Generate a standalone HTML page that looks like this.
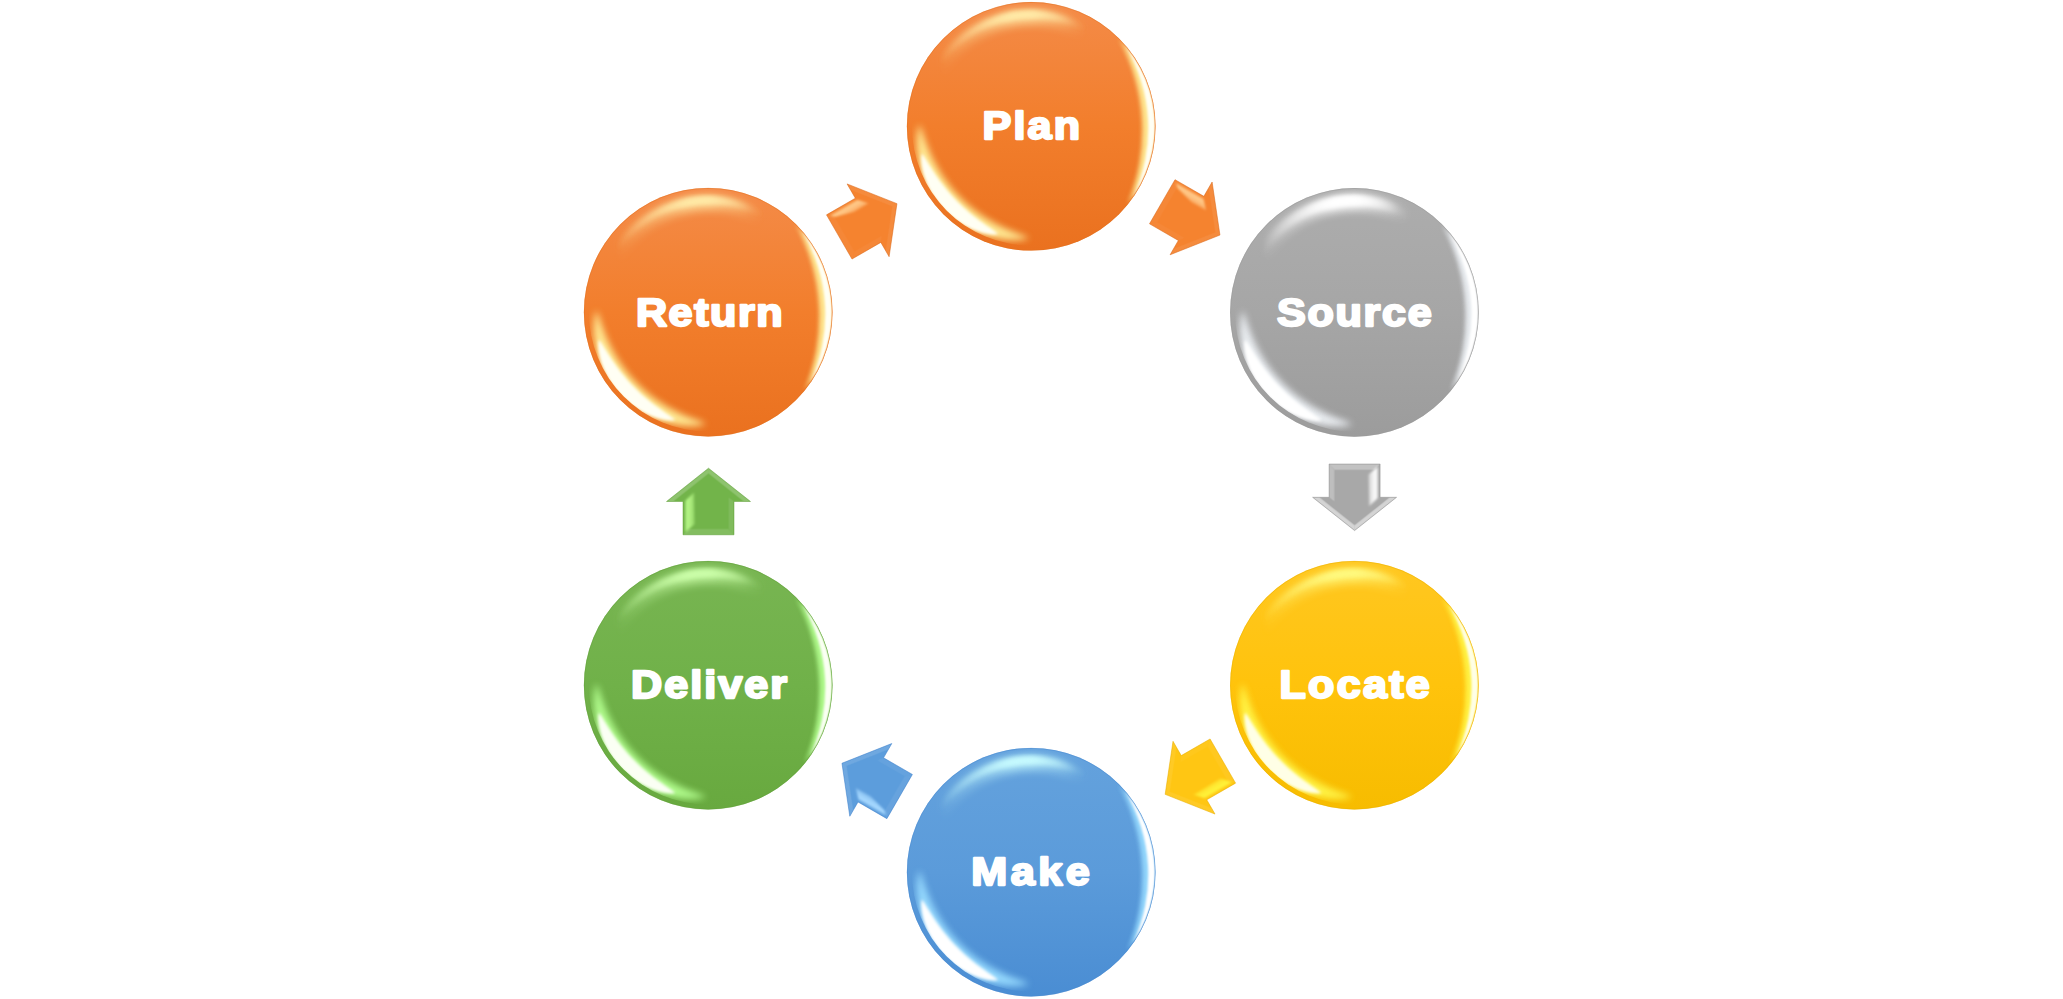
<!DOCTYPE html>
<html><head><meta charset="utf-8"><title>Cycle</title>
<style>
html,body{margin:0;padding:0;background:#fff;}
body{width:2063px;height:999px;overflow:hidden;font-family:"Liberation Sans",sans-serif;}
svg{display:block}
text{font-family:"Liberation Sans",sans-serif;font-weight:bold;fill:#fff;stroke:#fff;stroke-linejoin:round;}
</style></head><body>
<svg width="2063" height="999" viewBox="0 0 2063 999">
<defs>
<filter id="b1" x="-20%" y="-20%" width="140%" height="140%"><feGaussianBlur stdDeviation="1.2"/></filter>
<filter id="b2" x="-20%" y="-20%" width="140%" height="140%"><feGaussianBlur stdDeviation="2.2"/></filter>
<filter id="b3" x="-20%" y="-20%" width="140%" height="140%"><feGaussianBlur stdDeviation="3.5"/></filter>
<filter id="b05" x="-20%" y="-20%" width="140%" height="140%"><feGaussianBlur stdDeviation="0.6"/></filter>
<filter id="b15" x="-20%" y="-20%" width="140%" height="140%"><feGaussianBlur stdDeviation="1.5"/></filter>
<clipPath id="cc"><circle cx="0" cy="0" r="124.3"/></clipPath>
<clipPath id="cbl"><circle cx="0" cy="0" r="119.3"/></clipPath>
<clipPath id="cr"><circle cx="0" cy="0" r="124.0"/></clipPath>
<clipPath id="ac"><path d="M-33.3,-25.5 L0,-25.5 L0,-42 L33.3,0 L0,42 L0,25.5 L-33.3,25.5 Z"/></clipPath>
<filter id="b08" x="-20%" y="-20%" width="140%" height="140%"><feGaussianBlur stdDeviation="0.9"/></filter>

<linearGradient id="go" x1="0" y1="0" x2="0" y2="1"><stop offset="0" stop-color="#F48B48"/><stop offset="0.5" stop-color="#F27E2C"/><stop offset="1" stop-color="#EA711F"/></linearGradient>
<linearGradient id="gg" x1="0" y1="0" x2="0" y2="1"><stop offset="0" stop-color="#ADADAD"/><stop offset="0.5" stop-color="#A6A6A6"/><stop offset="1" stop-color="#9C9C9C"/></linearGradient>
<linearGradient id="gy" x1="0" y1="0" x2="0" y2="1"><stop offset="0" stop-color="#FFC721"/><stop offset="0.5" stop-color="#FFC30C"/><stop offset="1" stop-color="#F7BC00"/></linearGradient>
<linearGradient id="gb" x1="0" y1="0" x2="0" y2="1"><stop offset="0" stop-color="#64A2DD"/><stop offset="0.5" stop-color="#5B9BDA"/><stop offset="1" stop-color="#4A8DD3"/></linearGradient>
<linearGradient id="gn" x1="0" y1="0" x2="0" y2="1"><stop offset="0" stop-color="#78B552"/><stop offset="0.5" stop-color="#70B149"/><stop offset="1" stop-color="#68A93F"/></linearGradient>
<linearGradient id="tgo" gradientUnits="userSpaceOnUse" x1="-92" y1="0" x2="55" y2="0"><stop offset="0" stop-color="#FFEBA8" stop-opacity="0"/><stop offset="0.28" stop-color="#FFEBA8" stop-opacity="0.5"/><stop offset="0.49" stop-color="#FFEBA8" stop-opacity="1"/><stop offset="0.63" stop-color="#FFEBA8" stop-opacity="1"/><stop offset="0.8" stop-color="#FFEBA8" stop-opacity="0.5"/><stop offset="0.925" stop-color="#FFEBA8" stop-opacity="0.1"/><stop offset="1" stop-color="#FFEBA8" stop-opacity="0"/></linearGradient>
<linearGradient id="tgg" gradientUnits="userSpaceOnUse" x1="-92" y1="0" x2="55" y2="0"><stop offset="0" stop-color="#FFFFFF" stop-opacity="0"/><stop offset="0.28" stop-color="#FFFFFF" stop-opacity="0.5"/><stop offset="0.49" stop-color="#FFFFFF" stop-opacity="1"/><stop offset="0.63" stop-color="#FFFFFF" stop-opacity="1"/><stop offset="0.8" stop-color="#FFFFFF" stop-opacity="0.5"/><stop offset="0.925" stop-color="#FFFFFF" stop-opacity="0.1"/><stop offset="1" stop-color="#FFFFFF" stop-opacity="0"/></linearGradient>
<linearGradient id="tgy" gradientUnits="userSpaceOnUse" x1="-92" y1="0" x2="55" y2="0"><stop offset="0" stop-color="#FFFA80" stop-opacity="0"/><stop offset="0.28" stop-color="#FFFA80" stop-opacity="0.5"/><stop offset="0.49" stop-color="#FFFA80" stop-opacity="1"/><stop offset="0.63" stop-color="#FFFA80" stop-opacity="1"/><stop offset="0.8" stop-color="#FFFA80" stop-opacity="0.5"/><stop offset="0.925" stop-color="#FFFA80" stop-opacity="0.1"/><stop offset="1" stop-color="#FFFA80" stop-opacity="0"/></linearGradient>
<linearGradient id="tgb" gradientUnits="userSpaceOnUse" x1="-92" y1="0" x2="55" y2="0"><stop offset="0" stop-color="#C8FCFF" stop-opacity="0"/><stop offset="0.28" stop-color="#C8FCFF" stop-opacity="0.5"/><stop offset="0.49" stop-color="#C8FCFF" stop-opacity="1"/><stop offset="0.63" stop-color="#C8FCFF" stop-opacity="1"/><stop offset="0.8" stop-color="#C8FCFF" stop-opacity="0.5"/><stop offset="0.925" stop-color="#C8FCFF" stop-opacity="0.1"/><stop offset="1" stop-color="#C8FCFF" stop-opacity="0"/></linearGradient>
<linearGradient id="tgn" gradientUnits="userSpaceOnUse" x1="-92" y1="0" x2="55" y2="0"><stop offset="0" stop-color="#CCFFAA" stop-opacity="0"/><stop offset="0.28" stop-color="#CCFFAA" stop-opacity="0.5"/><stop offset="0.49" stop-color="#CCFFAA" stop-opacity="1"/><stop offset="0.63" stop-color="#CCFFAA" stop-opacity="1"/><stop offset="0.8" stop-color="#CCFFAA" stop-opacity="0.5"/><stop offset="0.925" stop-color="#CCFFAA" stop-opacity="0.1"/><stop offset="1" stop-color="#CCFFAA" stop-opacity="0"/></linearGradient>
<linearGradient id="aho" gradientUnits="userSpaceOnUse" x1="0" y1="-24" x2="0" y2="-12.5"><stop offset="0" stop-color="#FFC888" stop-opacity="0.8"/><stop offset="0.3" stop-color="#FFC888" stop-opacity="1"/><stop offset="0.6" stop-color="#FFC888" stop-opacity="0.8"/><stop offset="1" stop-color="#FFC888" stop-opacity="0.25"/></linearGradient>
<linearGradient id="ahg" gradientUnits="userSpaceOnUse" x1="0" y1="-24" x2="0" y2="-12.5"><stop offset="0" stop-color="#FAFAFA" stop-opacity="0.8"/><stop offset="0.3" stop-color="#FAFAFA" stop-opacity="1"/><stop offset="0.6" stop-color="#FAFAFA" stop-opacity="0.8"/><stop offset="1" stop-color="#FAFAFA" stop-opacity="0.25"/></linearGradient>
<linearGradient id="ahy" gradientUnits="userSpaceOnUse" x1="0" y1="-24" x2="0" y2="-12.5"><stop offset="0" stop-color="#FFF23A" stop-opacity="0.8"/><stop offset="0.3" stop-color="#FFF23A" stop-opacity="1"/><stop offset="0.6" stop-color="#FFF23A" stop-opacity="0.8"/><stop offset="1" stop-color="#FFF23A" stop-opacity="0.25"/></linearGradient>
<linearGradient id="ahb" gradientUnits="userSpaceOnUse" x1="0" y1="-24" x2="0" y2="-12.5"><stop offset="0" stop-color="#A6D8FF" stop-opacity="0.8"/><stop offset="0.3" stop-color="#A6D8FF" stop-opacity="1"/><stop offset="0.6" stop-color="#A6D8FF" stop-opacity="0.8"/><stop offset="1" stop-color="#A6D8FF" stop-opacity="0.25"/></linearGradient>
<linearGradient id="ahn" gradientUnits="userSpaceOnUse" x1="0" y1="-24" x2="0" y2="-12.5"><stop offset="0" stop-color="#B4F585" stop-opacity="0.8"/><stop offset="0.3" stop-color="#B4F585" stop-opacity="1"/><stop offset="0.6" stop-color="#B4F585" stop-opacity="0.8"/><stop offset="1" stop-color="#B4F585" stop-opacity="0.25"/></linearGradient>
</defs>
<rect width="2063" height="999" fill="#fff"/>
<g transform="translate(1031.2,126.3)">
<circle r="124.3" fill="url(#go)"/>
<g clip-path="url(#cc)">
<path d="M-92.92,-53.65 A107.3,107.3 0 0 1 68.97,-82.20" fill="none" stroke="url(#tgo)" stroke-width="15" opacity="0.4" filter="url(#b3)"/>
<path d="M-96.82,-55.90 A111.8,111.8 0 0 1 71.86,-85.64" fill="none" stroke="url(#tgo)" stroke-width="10" filter="url(#b3)"/>
<path d="M-96.82,-55.90 A111.8,111.8 0 0 1 71.86,-85.64" fill="none" stroke="url(#tgo)" stroke-width="6" opacity="0.8" filter="url(#b2)"/>
<g clip-path="url(#cbl)"><path d="M-2.0,111.8 L-6.4,112.9 L-10.9,113.5 L-15.5,113.8 L-20.1,113.8 L-24.7,113.5 L-29.2,113.0 L-33.8,112.3 L-38.3,111.3 L-42.8,110.1 L-47.3,108.7 L-51.7,107.1 L-56.0,105.2 L-60.2,103.2 L-64.3,100.9 L-68.3,98.5 L-72.2,95.9 L-76.0,93.0 L-79.7,90.0 L-83.2,86.9 L-86.5,83.6 L-89.7,80.1 L-92.8,76.5 L-95.6,72.7 L-98.3,68.8 L-100.8,64.8 L-103.1,60.7 L-105.2,56.5 L-107.1,52.3 L-108.8,47.9 L-110.3,43.4 L-111.6,39.0 L-112.6,34.4 L-113.4,29.9 L-114.0,25.3 L-114.3,20.7 L-114.4,16.1 L-114.3,11.5 L-113.8,7.0 L-113.1,2.5 L-111.8,-2.0 L-111.8,-2.0 L-110.1,2.4 L-108.7,6.6 L-107.3,10.8 L-105.9,14.9 L-104.4,18.9 L-102.9,22.8 L-101.3,26.7 L-99.6,30.4 L-97.8,34.1 L-95.9,37.8 L-93.9,41.3 L-91.9,44.8 L-89.8,48.2 L-87.5,51.6 L-85.2,54.8 L-82.9,58.0 L-80.4,61.1 L-77.8,64.2 L-75.2,67.1 L-72.5,70.0 L-69.7,72.8 L-66.9,75.6 L-63.9,78.2 L-60.9,80.8 L-57.8,83.3 L-54.6,85.7 L-51.3,88.0 L-48.0,90.3 L-44.6,92.4 L-41.1,94.5 L-37.5,96.5 L-33.9,98.4 L-30.2,100.3 L-26.4,102.0 L-22.5,103.7 L-18.6,105.3 L-14.5,106.9 L-10.4,108.4 L-6.2,109.9 L-2.0,111.8 Z" fill="#FFF09A" opacity="0.95" filter="url(#b3)"/>
<path d="M-33.0,107.9 L-36.2,108.3 L-39.3,108.1 L-42.3,107.8 L-45.3,107.2 L-48.3,106.6 L-51.2,105.7 L-54.2,104.8 L-57.0,103.7 L-59.9,102.6 L-62.7,101.3 L-65.4,99.9 L-68.1,98.4 L-70.8,96.8 L-73.3,95.1 L-75.9,93.3 L-78.3,91.4 L-80.7,89.4 L-83.1,87.4 L-85.3,85.2 L-87.5,83.0 L-89.6,80.7 L-91.6,78.4 L-93.5,75.9 L-95.4,73.4 L-97.1,70.9 L-98.8,68.3 L-100.3,65.6 L-101.8,62.9 L-103.2,60.1 L-104.4,57.3 L-105.5,54.4 L-106.6,51.5 L-107.5,48.6 L-108.3,45.6 L-108.9,42.6 L-109.5,39.6 L-109.8,36.6 L-110.0,33.5 L-110.0,30.5 L-109.4,27.3 L-109.4,27.3 L-107.4,29.7 L-105.8,32.3 L-104.3,34.7 L-102.8,37.2 L-101.3,39.6 L-99.8,42.0 L-98.3,44.4 L-96.7,46.8 L-95.2,49.1 L-93.6,51.3 L-92.0,53.6 L-90.4,55.8 L-88.7,58.0 L-87.0,60.2 L-85.3,62.3 L-83.6,64.4 L-81.8,66.5 L-80.1,68.5 L-78.2,70.5 L-76.4,72.5 L-74.5,74.4 L-72.6,76.4 L-70.6,78.3 L-68.7,80.1 L-66.7,82.0 L-64.6,83.8 L-62.6,85.6 L-60.5,87.3 L-58.3,89.1 L-56.2,90.8 L-54.0,92.5 L-51.8,94.1 L-49.5,95.8 L-47.2,97.4 L-44.9,99.1 L-42.5,100.7 L-40.2,102.3 L-37.8,104.0 L-35.3,105.7 L-33.0,107.9 Z" fill="#FFFFF4" filter="url(#b15)"/></g>
<g clip-path="url(#cr)"><path d="M87.68,-87.68 A124.00,124.00 0 0 1 96.37,78.04 A192.03,192.03 0 0 0 87.68,-87.68 Z" fill="#FFF09A" opacity="0.9" filter="url(#b2)"/>
<path d="M93.58,-81.35 A124.00,124.00 0 0 1 101.57,71.12 A160.73,160.73 0 0 0 93.58,-81.35 Z" fill="#FFFFF4" filter="url(#b08)"/></g>
</g>
<circle r="123.89999999999999" fill="none" stroke="#E0701F" stroke-width="1" opacity="0.45"/>
</g>
<text transform="translate(982.59,139.1) scale(1.09,1)" font-size="39.6" stroke-width="2.3" textLength="89.37" lengthAdjust="spacing">Plan</text>
<g transform="translate(1354.4,312.4)">
<circle r="124.3" fill="url(#gg)"/>
<g clip-path="url(#cc)">
<path d="M-92.92,-53.65 A107.3,107.3 0 0 1 68.97,-82.20" fill="none" stroke="url(#tgg)" stroke-width="15" opacity="0.4" filter="url(#b3)"/>
<path d="M-96.82,-55.90 A111.8,111.8 0 0 1 71.86,-85.64" fill="none" stroke="url(#tgg)" stroke-width="13" filter="url(#b3)"/>
<path d="M-96.82,-55.90 A111.8,111.8 0 0 1 71.86,-85.64" fill="none" stroke="url(#tgg)" stroke-width="9" opacity="1.0" filter="url(#b2)"/>
<g clip-path="url(#cbl)"><path d="M-2.0,111.8 L-6.4,112.9 L-10.9,113.5 L-15.5,113.8 L-20.1,113.8 L-24.7,113.5 L-29.2,113.0 L-33.8,112.3 L-38.3,111.3 L-42.8,110.1 L-47.3,108.7 L-51.7,107.1 L-56.0,105.2 L-60.2,103.2 L-64.3,100.9 L-68.3,98.5 L-72.2,95.9 L-76.0,93.0 L-79.7,90.0 L-83.2,86.9 L-86.5,83.6 L-89.7,80.1 L-92.8,76.5 L-95.6,72.7 L-98.3,68.8 L-100.8,64.8 L-103.1,60.7 L-105.2,56.5 L-107.1,52.3 L-108.8,47.9 L-110.3,43.4 L-111.6,39.0 L-112.6,34.4 L-113.4,29.9 L-114.0,25.3 L-114.3,20.7 L-114.4,16.1 L-114.3,11.5 L-113.8,7.0 L-113.1,2.5 L-111.8,-2.0 L-111.8,-2.0 L-110.1,2.4 L-108.7,6.6 L-107.3,10.8 L-105.9,14.9 L-104.4,18.9 L-102.9,22.8 L-101.3,26.7 L-99.6,30.4 L-97.8,34.1 L-95.9,37.8 L-93.9,41.3 L-91.9,44.8 L-89.8,48.2 L-87.5,51.6 L-85.2,54.8 L-82.9,58.0 L-80.4,61.1 L-77.8,64.2 L-75.2,67.1 L-72.5,70.0 L-69.7,72.8 L-66.9,75.6 L-63.9,78.2 L-60.9,80.8 L-57.8,83.3 L-54.6,85.7 L-51.3,88.0 L-48.0,90.3 L-44.6,92.4 L-41.1,94.5 L-37.5,96.5 L-33.9,98.4 L-30.2,100.3 L-26.4,102.0 L-22.5,103.7 L-18.6,105.3 L-14.5,106.9 L-10.4,108.4 L-6.2,109.9 L-2.0,111.8 Z" fill="#EEF2F6" opacity="0.95" filter="url(#b3)"/>
<path d="M-33.0,107.9 L-36.2,108.3 L-39.3,108.1 L-42.3,107.8 L-45.3,107.2 L-48.3,106.6 L-51.2,105.7 L-54.2,104.8 L-57.0,103.7 L-59.9,102.6 L-62.7,101.3 L-65.4,99.9 L-68.1,98.4 L-70.8,96.8 L-73.3,95.1 L-75.9,93.3 L-78.3,91.4 L-80.7,89.4 L-83.1,87.4 L-85.3,85.2 L-87.5,83.0 L-89.6,80.7 L-91.6,78.4 L-93.5,75.9 L-95.4,73.4 L-97.1,70.9 L-98.8,68.3 L-100.3,65.6 L-101.8,62.9 L-103.2,60.1 L-104.4,57.3 L-105.5,54.4 L-106.6,51.5 L-107.5,48.6 L-108.3,45.6 L-108.9,42.6 L-109.5,39.6 L-109.8,36.6 L-110.0,33.5 L-110.0,30.5 L-109.4,27.3 L-109.4,27.3 L-107.4,29.7 L-105.8,32.3 L-104.3,34.7 L-102.8,37.2 L-101.3,39.6 L-99.8,42.0 L-98.3,44.4 L-96.7,46.8 L-95.2,49.1 L-93.6,51.3 L-92.0,53.6 L-90.4,55.8 L-88.7,58.0 L-87.0,60.2 L-85.3,62.3 L-83.6,64.4 L-81.8,66.5 L-80.1,68.5 L-78.2,70.5 L-76.4,72.5 L-74.5,74.4 L-72.6,76.4 L-70.6,78.3 L-68.7,80.1 L-66.7,82.0 L-64.6,83.8 L-62.6,85.6 L-60.5,87.3 L-58.3,89.1 L-56.2,90.8 L-54.0,92.5 L-51.8,94.1 L-49.5,95.8 L-47.2,97.4 L-44.9,99.1 L-42.5,100.7 L-40.2,102.3 L-37.8,104.0 L-35.3,105.7 L-33.0,107.9 Z" fill="#FFFFFF" filter="url(#b15)"/></g>
<g clip-path="url(#cr)"><path d="M87.68,-87.68 A124.00,124.00 0 0 1 96.37,78.04 A192.03,192.03 0 0 0 87.68,-87.68 Z" fill="#EEF2F6" opacity="0.9" filter="url(#b2)"/>
<path d="M93.58,-81.35 A124.00,124.00 0 0 1 101.57,71.12 A160.73,160.73 0 0 0 93.58,-81.35 Z" fill="#FFFFFF" filter="url(#b08)"/></g>
</g>
<circle r="123.89999999999999" fill="none" stroke="#9A9A9A" stroke-width="1" opacity="0.45"/>
</g>
<text transform="translate(1276.89,325.9) scale(1.09,1)" font-size="39.6" stroke-width="2.3" textLength="142.17" lengthAdjust="spacing">Source</text>
<g transform="translate(1354.4,685.2)">
<circle r="124.3" fill="url(#gy)"/>
<g clip-path="url(#cc)">
<path d="M-92.92,-53.65 A107.3,107.3 0 0 1 68.97,-82.20" fill="none" stroke="url(#tgy)" stroke-width="15" opacity="0.4" filter="url(#b3)"/>
<path d="M-96.82,-55.90 A111.8,111.8 0 0 1 71.86,-85.64" fill="none" stroke="url(#tgy)" stroke-width="10" filter="url(#b3)"/>
<path d="M-96.82,-55.90 A111.8,111.8 0 0 1 71.86,-85.64" fill="none" stroke="url(#tgy)" stroke-width="6" opacity="0.8" filter="url(#b2)"/>
<g clip-path="url(#cbl)"><path d="M-2.0,111.8 L-6.4,112.9 L-10.9,113.5 L-15.5,113.8 L-20.1,113.8 L-24.7,113.5 L-29.2,113.0 L-33.8,112.3 L-38.3,111.3 L-42.8,110.1 L-47.3,108.7 L-51.7,107.1 L-56.0,105.2 L-60.2,103.2 L-64.3,100.9 L-68.3,98.5 L-72.2,95.9 L-76.0,93.0 L-79.7,90.0 L-83.2,86.9 L-86.5,83.6 L-89.7,80.1 L-92.8,76.5 L-95.6,72.7 L-98.3,68.8 L-100.8,64.8 L-103.1,60.7 L-105.2,56.5 L-107.1,52.3 L-108.8,47.9 L-110.3,43.4 L-111.6,39.0 L-112.6,34.4 L-113.4,29.9 L-114.0,25.3 L-114.3,20.7 L-114.4,16.1 L-114.3,11.5 L-113.8,7.0 L-113.1,2.5 L-111.8,-2.0 L-111.8,-2.0 L-110.1,2.4 L-108.7,6.6 L-107.3,10.8 L-105.9,14.9 L-104.4,18.9 L-102.9,22.8 L-101.3,26.7 L-99.6,30.4 L-97.8,34.1 L-95.9,37.8 L-93.9,41.3 L-91.9,44.8 L-89.8,48.2 L-87.5,51.6 L-85.2,54.8 L-82.9,58.0 L-80.4,61.1 L-77.8,64.2 L-75.2,67.1 L-72.5,70.0 L-69.7,72.8 L-66.9,75.6 L-63.9,78.2 L-60.9,80.8 L-57.8,83.3 L-54.6,85.7 L-51.3,88.0 L-48.0,90.3 L-44.6,92.4 L-41.1,94.5 L-37.5,96.5 L-33.9,98.4 L-30.2,100.3 L-26.4,102.0 L-22.5,103.7 L-18.6,105.3 L-14.5,106.9 L-10.4,108.4 L-6.2,109.9 L-2.0,111.8 Z" fill="#FFF64A" opacity="0.95" filter="url(#b3)"/>
<path d="M-33.0,107.9 L-36.2,108.3 L-39.3,108.1 L-42.3,107.8 L-45.3,107.2 L-48.3,106.6 L-51.2,105.7 L-54.2,104.8 L-57.0,103.7 L-59.9,102.6 L-62.7,101.3 L-65.4,99.9 L-68.1,98.4 L-70.8,96.8 L-73.3,95.1 L-75.9,93.3 L-78.3,91.4 L-80.7,89.4 L-83.1,87.4 L-85.3,85.2 L-87.5,83.0 L-89.6,80.7 L-91.6,78.4 L-93.5,75.9 L-95.4,73.4 L-97.1,70.9 L-98.8,68.3 L-100.3,65.6 L-101.8,62.9 L-103.2,60.1 L-104.4,57.3 L-105.5,54.4 L-106.6,51.5 L-107.5,48.6 L-108.3,45.6 L-108.9,42.6 L-109.5,39.6 L-109.8,36.6 L-110.0,33.5 L-110.0,30.5 L-109.4,27.3 L-109.4,27.3 L-107.4,29.7 L-105.8,32.3 L-104.3,34.7 L-102.8,37.2 L-101.3,39.6 L-99.8,42.0 L-98.3,44.4 L-96.7,46.8 L-95.2,49.1 L-93.6,51.3 L-92.0,53.6 L-90.4,55.8 L-88.7,58.0 L-87.0,60.2 L-85.3,62.3 L-83.6,64.4 L-81.8,66.5 L-80.1,68.5 L-78.2,70.5 L-76.4,72.5 L-74.5,74.4 L-72.6,76.4 L-70.6,78.3 L-68.7,80.1 L-66.7,82.0 L-64.6,83.8 L-62.6,85.6 L-60.5,87.3 L-58.3,89.1 L-56.2,90.8 L-54.0,92.5 L-51.8,94.1 L-49.5,95.8 L-47.2,97.4 L-44.9,99.1 L-42.5,100.7 L-40.2,102.3 L-37.8,104.0 L-35.3,105.7 L-33.0,107.9 Z" fill="#FFFFE6" filter="url(#b15)"/></g>
<g clip-path="url(#cr)"><path d="M87.68,-87.68 A124.00,124.00 0 0 1 96.37,78.04 A192.03,192.03 0 0 0 87.68,-87.68 Z" fill="#FFF64A" opacity="0.9" filter="url(#b2)"/>
<path d="M93.58,-81.35 A124.00,124.00 0 0 1 101.57,71.12 A160.73,160.73 0 0 0 93.58,-81.35 Z" fill="#FFFFE6" filter="url(#b08)"/></g>
</g>
<circle r="123.89999999999999" fill="none" stroke="#E8B000" stroke-width="1" opacity="0.45"/>
</g>
<text transform="translate(1279.39,698.2) scale(1.09,1)" font-size="39.6" stroke-width="2.3" textLength="138.07" lengthAdjust="spacing">Locate</text>
<g transform="translate(1031.2,872.2)">
<circle r="124.3" fill="url(#gb)"/>
<g clip-path="url(#cc)">
<path d="M-92.92,-53.65 A107.3,107.3 0 0 1 68.97,-82.20" fill="none" stroke="url(#tgb)" stroke-width="15" opacity="0.4" filter="url(#b3)"/>
<path d="M-96.82,-55.90 A111.8,111.8 0 0 1 71.86,-85.64" fill="none" stroke="url(#tgb)" stroke-width="10" filter="url(#b3)"/>
<path d="M-96.82,-55.90 A111.8,111.8 0 0 1 71.86,-85.64" fill="none" stroke="url(#tgb)" stroke-width="6" opacity="0.8" filter="url(#b2)"/>
<g clip-path="url(#cbl)"><path d="M-2.0,111.8 L-6.4,112.9 L-10.9,113.5 L-15.5,113.8 L-20.1,113.8 L-24.7,113.5 L-29.2,113.0 L-33.8,112.3 L-38.3,111.3 L-42.8,110.1 L-47.3,108.7 L-51.7,107.1 L-56.0,105.2 L-60.2,103.2 L-64.3,100.9 L-68.3,98.5 L-72.2,95.9 L-76.0,93.0 L-79.7,90.0 L-83.2,86.9 L-86.5,83.6 L-89.7,80.1 L-92.8,76.5 L-95.6,72.7 L-98.3,68.8 L-100.8,64.8 L-103.1,60.7 L-105.2,56.5 L-107.1,52.3 L-108.8,47.9 L-110.3,43.4 L-111.6,39.0 L-112.6,34.4 L-113.4,29.9 L-114.0,25.3 L-114.3,20.7 L-114.4,16.1 L-114.3,11.5 L-113.8,7.0 L-113.1,2.5 L-111.8,-2.0 L-111.8,-2.0 L-110.1,2.4 L-108.7,6.6 L-107.3,10.8 L-105.9,14.9 L-104.4,18.9 L-102.9,22.8 L-101.3,26.7 L-99.6,30.4 L-97.8,34.1 L-95.9,37.8 L-93.9,41.3 L-91.9,44.8 L-89.8,48.2 L-87.5,51.6 L-85.2,54.8 L-82.9,58.0 L-80.4,61.1 L-77.8,64.2 L-75.2,67.1 L-72.5,70.0 L-69.7,72.8 L-66.9,75.6 L-63.9,78.2 L-60.9,80.8 L-57.8,83.3 L-54.6,85.7 L-51.3,88.0 L-48.0,90.3 L-44.6,92.4 L-41.1,94.5 L-37.5,96.5 L-33.9,98.4 L-30.2,100.3 L-26.4,102.0 L-22.5,103.7 L-18.6,105.3 L-14.5,106.9 L-10.4,108.4 L-6.2,109.9 L-2.0,111.8 Z" fill="#98DCFF" opacity="0.95" filter="url(#b3)"/>
<path d="M-33.0,107.9 L-36.2,108.3 L-39.3,108.1 L-42.3,107.8 L-45.3,107.2 L-48.3,106.6 L-51.2,105.7 L-54.2,104.8 L-57.0,103.7 L-59.9,102.6 L-62.7,101.3 L-65.4,99.9 L-68.1,98.4 L-70.8,96.8 L-73.3,95.1 L-75.9,93.3 L-78.3,91.4 L-80.7,89.4 L-83.1,87.4 L-85.3,85.2 L-87.5,83.0 L-89.6,80.7 L-91.6,78.4 L-93.5,75.9 L-95.4,73.4 L-97.1,70.9 L-98.8,68.3 L-100.3,65.6 L-101.8,62.9 L-103.2,60.1 L-104.4,57.3 L-105.5,54.4 L-106.6,51.5 L-107.5,48.6 L-108.3,45.6 L-108.9,42.6 L-109.5,39.6 L-109.8,36.6 L-110.0,33.5 L-110.0,30.5 L-109.4,27.3 L-109.4,27.3 L-107.4,29.7 L-105.8,32.3 L-104.3,34.7 L-102.8,37.2 L-101.3,39.6 L-99.8,42.0 L-98.3,44.4 L-96.7,46.8 L-95.2,49.1 L-93.6,51.3 L-92.0,53.6 L-90.4,55.8 L-88.7,58.0 L-87.0,60.2 L-85.3,62.3 L-83.6,64.4 L-81.8,66.5 L-80.1,68.5 L-78.2,70.5 L-76.4,72.5 L-74.5,74.4 L-72.6,76.4 L-70.6,78.3 L-68.7,80.1 L-66.7,82.0 L-64.6,83.8 L-62.6,85.6 L-60.5,87.3 L-58.3,89.1 L-56.2,90.8 L-54.0,92.5 L-51.8,94.1 L-49.5,95.8 L-47.2,97.4 L-44.9,99.1 L-42.5,100.7 L-40.2,102.3 L-37.8,104.0 L-35.3,105.7 L-33.0,107.9 Z" fill="#FFFFFF" filter="url(#b15)"/></g>
<g clip-path="url(#cr)"><path d="M87.68,-87.68 A124.00,124.00 0 0 1 96.37,78.04 A192.03,192.03 0 0 0 87.68,-87.68 Z" fill="#98DCFF" opacity="0.9" filter="url(#b2)"/>
<path d="M93.58,-81.35 A124.00,124.00 0 0 1 101.57,71.12 A160.73,160.73 0 0 0 93.58,-81.35 Z" fill="#FFFFFF" filter="url(#b08)"/></g>
</g>
<circle r="123.89999999999999" fill="none" stroke="#4A8AD0" stroke-width="1" opacity="0.45"/>
</g>
<text transform="translate(971.36,885.0) scale(1.09,1)" font-size="39.6" stroke-width="2.3" textLength="108.64" lengthAdjust="spacing">Make</text>
<g transform="translate(708.2,685.2)">
<circle r="124.3" fill="url(#gn)"/>
<g clip-path="url(#cc)">
<path d="M-92.92,-53.65 A107.3,107.3 0 0 1 68.97,-82.20" fill="none" stroke="url(#tgn)" stroke-width="15" opacity="0.4" filter="url(#b3)"/>
<path d="M-96.82,-55.90 A111.8,111.8 0 0 1 71.86,-85.64" fill="none" stroke="url(#tgn)" stroke-width="10" filter="url(#b3)"/>
<path d="M-96.82,-55.90 A111.8,111.8 0 0 1 71.86,-85.64" fill="none" stroke="url(#tgn)" stroke-width="6" opacity="0.8" filter="url(#b2)"/>
<g clip-path="url(#cbl)"><path d="M-2.0,111.8 L-6.4,112.9 L-10.9,113.5 L-15.5,113.8 L-20.1,113.8 L-24.7,113.5 L-29.2,113.0 L-33.8,112.3 L-38.3,111.3 L-42.8,110.1 L-47.3,108.7 L-51.7,107.1 L-56.0,105.2 L-60.2,103.2 L-64.3,100.9 L-68.3,98.5 L-72.2,95.9 L-76.0,93.0 L-79.7,90.0 L-83.2,86.9 L-86.5,83.6 L-89.7,80.1 L-92.8,76.5 L-95.6,72.7 L-98.3,68.8 L-100.8,64.8 L-103.1,60.7 L-105.2,56.5 L-107.1,52.3 L-108.8,47.9 L-110.3,43.4 L-111.6,39.0 L-112.6,34.4 L-113.4,29.9 L-114.0,25.3 L-114.3,20.7 L-114.4,16.1 L-114.3,11.5 L-113.8,7.0 L-113.1,2.5 L-111.8,-2.0 L-111.8,-2.0 L-110.1,2.4 L-108.7,6.6 L-107.3,10.8 L-105.9,14.9 L-104.4,18.9 L-102.9,22.8 L-101.3,26.7 L-99.6,30.4 L-97.8,34.1 L-95.9,37.8 L-93.9,41.3 L-91.9,44.8 L-89.8,48.2 L-87.5,51.6 L-85.2,54.8 L-82.9,58.0 L-80.4,61.1 L-77.8,64.2 L-75.2,67.1 L-72.5,70.0 L-69.7,72.8 L-66.9,75.6 L-63.9,78.2 L-60.9,80.8 L-57.8,83.3 L-54.6,85.7 L-51.3,88.0 L-48.0,90.3 L-44.6,92.4 L-41.1,94.5 L-37.5,96.5 L-33.9,98.4 L-30.2,100.3 L-26.4,102.0 L-22.5,103.7 L-18.6,105.3 L-14.5,106.9 L-10.4,108.4 L-6.2,109.9 L-2.0,111.8 Z" fill="#B4FF90" opacity="0.95" filter="url(#b3)"/>
<path d="M-33.0,107.9 L-36.2,108.3 L-39.3,108.1 L-42.3,107.8 L-45.3,107.2 L-48.3,106.6 L-51.2,105.7 L-54.2,104.8 L-57.0,103.7 L-59.9,102.6 L-62.7,101.3 L-65.4,99.9 L-68.1,98.4 L-70.8,96.8 L-73.3,95.1 L-75.9,93.3 L-78.3,91.4 L-80.7,89.4 L-83.1,87.4 L-85.3,85.2 L-87.5,83.0 L-89.6,80.7 L-91.6,78.4 L-93.5,75.9 L-95.4,73.4 L-97.1,70.9 L-98.8,68.3 L-100.3,65.6 L-101.8,62.9 L-103.2,60.1 L-104.4,57.3 L-105.5,54.4 L-106.6,51.5 L-107.5,48.6 L-108.3,45.6 L-108.9,42.6 L-109.5,39.6 L-109.8,36.6 L-110.0,33.5 L-110.0,30.5 L-109.4,27.3 L-109.4,27.3 L-107.4,29.7 L-105.8,32.3 L-104.3,34.7 L-102.8,37.2 L-101.3,39.6 L-99.8,42.0 L-98.3,44.4 L-96.7,46.8 L-95.2,49.1 L-93.6,51.3 L-92.0,53.6 L-90.4,55.8 L-88.7,58.0 L-87.0,60.2 L-85.3,62.3 L-83.6,64.4 L-81.8,66.5 L-80.1,68.5 L-78.2,70.5 L-76.4,72.5 L-74.5,74.4 L-72.6,76.4 L-70.6,78.3 L-68.7,80.1 L-66.7,82.0 L-64.6,83.8 L-62.6,85.6 L-60.5,87.3 L-58.3,89.1 L-56.2,90.8 L-54.0,92.5 L-51.8,94.1 L-49.5,95.8 L-47.2,97.4 L-44.9,99.1 L-42.5,100.7 L-40.2,102.3 L-37.8,104.0 L-35.3,105.7 L-33.0,107.9 Z" fill="#FBFFF4" filter="url(#b15)"/></g>
<g clip-path="url(#cr)"><path d="M87.68,-87.68 A124.00,124.00 0 0 1 96.37,78.04 A192.03,192.03 0 0 0 87.68,-87.68 Z" fill="#B4FF90" opacity="0.9" filter="url(#b2)"/>
<path d="M93.58,-81.35 A124.00,124.00 0 0 1 101.57,71.12 A160.73,160.73 0 0 0 93.58,-81.35 Z" fill="#FBFFF4" filter="url(#b08)"/></g>
</g>
<circle r="123.89999999999999" fill="none" stroke="#62A03A" stroke-width="1" opacity="0.45"/>
</g>
<text transform="translate(631.12,698.2) scale(1.09,1)" font-size="39.6" stroke-width="2.3" textLength="143.09" lengthAdjust="spacing">Deliver</text>
<g transform="translate(708.2,312.2)">
<circle r="124.3" fill="url(#go)"/>
<g clip-path="url(#cc)">
<path d="M-92.92,-53.65 A107.3,107.3 0 0 1 68.97,-82.20" fill="none" stroke="url(#tgo)" stroke-width="15" opacity="0.4" filter="url(#b3)"/>
<path d="M-96.82,-55.90 A111.8,111.8 0 0 1 71.86,-85.64" fill="none" stroke="url(#tgo)" stroke-width="10" filter="url(#b3)"/>
<path d="M-96.82,-55.90 A111.8,111.8 0 0 1 71.86,-85.64" fill="none" stroke="url(#tgo)" stroke-width="6" opacity="0.8" filter="url(#b2)"/>
<g clip-path="url(#cbl)"><path d="M-2.0,111.8 L-6.4,112.9 L-10.9,113.5 L-15.5,113.8 L-20.1,113.8 L-24.7,113.5 L-29.2,113.0 L-33.8,112.3 L-38.3,111.3 L-42.8,110.1 L-47.3,108.7 L-51.7,107.1 L-56.0,105.2 L-60.2,103.2 L-64.3,100.9 L-68.3,98.5 L-72.2,95.9 L-76.0,93.0 L-79.7,90.0 L-83.2,86.9 L-86.5,83.6 L-89.7,80.1 L-92.8,76.5 L-95.6,72.7 L-98.3,68.8 L-100.8,64.8 L-103.1,60.7 L-105.2,56.5 L-107.1,52.3 L-108.8,47.9 L-110.3,43.4 L-111.6,39.0 L-112.6,34.4 L-113.4,29.9 L-114.0,25.3 L-114.3,20.7 L-114.4,16.1 L-114.3,11.5 L-113.8,7.0 L-113.1,2.5 L-111.8,-2.0 L-111.8,-2.0 L-110.1,2.4 L-108.7,6.6 L-107.3,10.8 L-105.9,14.9 L-104.4,18.9 L-102.9,22.8 L-101.3,26.7 L-99.6,30.4 L-97.8,34.1 L-95.9,37.8 L-93.9,41.3 L-91.9,44.8 L-89.8,48.2 L-87.5,51.6 L-85.2,54.8 L-82.9,58.0 L-80.4,61.1 L-77.8,64.2 L-75.2,67.1 L-72.5,70.0 L-69.7,72.8 L-66.9,75.6 L-63.9,78.2 L-60.9,80.8 L-57.8,83.3 L-54.6,85.7 L-51.3,88.0 L-48.0,90.3 L-44.6,92.4 L-41.1,94.5 L-37.5,96.5 L-33.9,98.4 L-30.2,100.3 L-26.4,102.0 L-22.5,103.7 L-18.6,105.3 L-14.5,106.9 L-10.4,108.4 L-6.2,109.9 L-2.0,111.8 Z" fill="#FFF09A" opacity="0.95" filter="url(#b3)"/>
<path d="M-33.0,107.9 L-36.2,108.3 L-39.3,108.1 L-42.3,107.8 L-45.3,107.2 L-48.3,106.6 L-51.2,105.7 L-54.2,104.8 L-57.0,103.7 L-59.9,102.6 L-62.7,101.3 L-65.4,99.9 L-68.1,98.4 L-70.8,96.8 L-73.3,95.1 L-75.9,93.3 L-78.3,91.4 L-80.7,89.4 L-83.1,87.4 L-85.3,85.2 L-87.5,83.0 L-89.6,80.7 L-91.6,78.4 L-93.5,75.9 L-95.4,73.4 L-97.1,70.9 L-98.8,68.3 L-100.3,65.6 L-101.8,62.9 L-103.2,60.1 L-104.4,57.3 L-105.5,54.4 L-106.6,51.5 L-107.5,48.6 L-108.3,45.6 L-108.9,42.6 L-109.5,39.6 L-109.8,36.6 L-110.0,33.5 L-110.0,30.5 L-109.4,27.3 L-109.4,27.3 L-107.4,29.7 L-105.8,32.3 L-104.3,34.7 L-102.8,37.2 L-101.3,39.6 L-99.8,42.0 L-98.3,44.4 L-96.7,46.8 L-95.2,49.1 L-93.6,51.3 L-92.0,53.6 L-90.4,55.8 L-88.7,58.0 L-87.0,60.2 L-85.3,62.3 L-83.6,64.4 L-81.8,66.5 L-80.1,68.5 L-78.2,70.5 L-76.4,72.5 L-74.5,74.4 L-72.6,76.4 L-70.6,78.3 L-68.7,80.1 L-66.7,82.0 L-64.6,83.8 L-62.6,85.6 L-60.5,87.3 L-58.3,89.1 L-56.2,90.8 L-54.0,92.5 L-51.8,94.1 L-49.5,95.8 L-47.2,97.4 L-44.9,99.1 L-42.5,100.7 L-40.2,102.3 L-37.8,104.0 L-35.3,105.7 L-33.0,107.9 Z" fill="#FFFFF4" filter="url(#b15)"/></g>
<g clip-path="url(#cr)"><path d="M87.68,-87.68 A124.00,124.00 0 0 1 96.37,78.04 A192.03,192.03 0 0 0 87.68,-87.68 Z" fill="#FFF09A" opacity="0.9" filter="url(#b2)"/>
<path d="M93.58,-81.35 A124.00,124.00 0 0 1 101.57,71.12 A160.73,160.73 0 0 0 93.58,-81.35 Z" fill="#FFFFF4" filter="url(#b08)"/></g>
</g>
<circle r="123.89999999999999" fill="none" stroke="#E0701F" stroke-width="1" opacity="0.45"/>
</g>
<text transform="translate(635.95,326.1) scale(1.09,1)" font-size="39.6" stroke-width="2.3" textLength="134.50" lengthAdjust="spacing">Return</text>
<g transform="translate(1191.1,218.4) rotate(30)">
<path d="M-33.3,-25.5 L0,-25.5 L0,-42 L33.3,0 L0,42 L0,25.5 L-33.3,25.5 Z" fill="#F5832F"/>
<g clip-path="url(#ac)">
<path d="M-33.3,-25.5 L-27.5,-20 L-27.5,20 L-33.3,25.5 Z" fill="#fff" opacity="0.04" filter="url(#b05)"/>
<path d="M-33.3,25.5 L0,25.5 L4,20.3 L-27.5,20.3 Z" fill="#fff" opacity="0.04" filter="url(#b05)"/>
<path d="M0,-42 L33.3,0 L28,0 L0,-35.3 Z" fill="#fff" opacity="0.07" filter="url(#b05)"/>
<path d="M0,42 L33.3,0 L28,0 L0,35.3 Z" fill="#fff" opacity="0.07" filter="url(#b05)"/>
<path d="M-31,-23.3 L0.8,-23.3 L9,-14.5 L-8,-14.2 L-27,-19.5 Z" fill="url(#aho)" filter="url(#b08)"/>
</g>
<path d="M-33.3,-25.5 L0,-25.5 L0,-42 L33.3,0 L0,42 L0,25.5 L-33.3,25.5 Z" fill="none" stroke="#D9691C" stroke-width="0.8" opacity="0.6"/>
</g>
<g transform="translate(1354.6,497.3) rotate(90)">
<path d="M-33.3,-25.5 L0,-25.5 L0,-42 L33.3,0 L0,42 L0,25.5 L-33.3,25.5 Z" fill="#A8A8A8"/>
<g clip-path="url(#ac)">
<path d="M-33.3,-25.5 L-27.5,-20 L-27.5,20 L-33.3,25.5 Z" fill="#fff" opacity="0.30" filter="url(#b05)"/>
<path d="M-33.3,25.5 L0,25.5 L4,20.3 L-27.5,20.3 Z" fill="#fff" opacity="0.25" filter="url(#b05)"/>
<path d="M0,-42 L33.3,0 L28,0 L0,-35.3 Z" fill="#fff" opacity="0.50" filter="url(#b05)"/>
<path d="M0,42 L33.3,0 L28,0 L0,35.3 Z" fill="#fff" opacity="0.50" filter="url(#b05)"/>
<path d="M-31,-23.3 L0.8,-23.3 L9,-14.5 L-22.5,-13.8 Z" fill="url(#ahg)" filter="url(#b08)"/>
</g>
<path d="M-33.3,-25.5 L0,-25.5 L0,-42 L33.3,0 L0,42 L0,25.5 L-33.3,25.5 Z" fill="none" stroke="#909090" stroke-width="0.8" opacity="0.6"/>
</g>
<g transform="translate(1194.0,777.7) rotate(150)">
<path d="M-33.3,-25.5 L0,-25.5 L0,-42 L33.3,0 L0,42 L0,25.5 L-33.3,25.5 Z" fill="#FFC613"/>
<g clip-path="url(#ac)">
<path d="M-33.3,-25.5 L-27.5,-20 L-27.5,20 L-33.3,25.5 Z" fill="#fff" opacity="0.05" filter="url(#b05)"/>
<path d="M-33.3,25.5 L0,25.5 L4,20.3 L-27.5,20.3 Z" fill="#fff" opacity="0.04" filter="url(#b05)"/>
<path d="M0,-42 L33.3,0 L28,0 L0,-35.3 Z" fill="#fff" opacity="0.08" filter="url(#b05)"/>
<path d="M0,42 L33.3,0 L28,0 L0,35.3 Z" fill="#fff" opacity="0.08" filter="url(#b05)"/>
<path d="M-31,-23.3 L0.8,-23.3 L9,-14.5 L-22.5,-13.8 Z" fill="url(#ahy)" filter="url(#b08)"/>
</g>
<path d="M-33.3,-25.5 L0,-25.5 L0,-42 L33.3,0 L0,42 L0,25.5 L-33.3,25.5 Z" fill="none" stroke="#E8AE00" stroke-width="0.8" opacity="0.6"/>
</g>
<g transform="translate(870.8,779.9) rotate(210)">
<path d="M-33.3,-25.5 L0,-25.5 L0,-42 L33.3,0 L0,42 L0,25.5 L-33.3,25.5 Z" fill="#5C9DDC"/>
<g clip-path="url(#ac)">
<path d="M-33.3,-25.5 L-27.5,-20 L-27.5,20 L-33.3,25.5 Z" fill="#fff" opacity="0.07" filter="url(#b05)"/>
<path d="M-33.3,25.5 L0,25.5 L4,20.3 L-27.5,20.3 Z" fill="#fff" opacity="0.06" filter="url(#b05)"/>
<path d="M0,-42 L33.3,0 L28,0 L0,-35.3 Z" fill="#fff" opacity="0.12" filter="url(#b05)"/>
<path d="M0,42 L33.3,0 L28,0 L0,35.3 Z" fill="#fff" opacity="0.12" filter="url(#b05)"/>
<path d="M-31,-23.3 L0.8,-23.3 L9,-14.5 L-8,-14.2 L-27,-19.5 Z" fill="url(#ahb)" filter="url(#b08)"/>
</g>
<path d="M-33.3,-25.5 L0,-25.5 L0,-42 L33.3,0 L0,42 L0,25.5 L-33.3,25.5 Z" fill="none" stroke="#3F82CC" stroke-width="0.8" opacity="0.6"/>
</g>
<g transform="translate(708.5,501.5) rotate(270)">
<path d="M-33.3,-25.5 L0,-25.5 L0,-42 L33.3,0 L0,42 L0,25.5 L-33.3,25.5 Z" fill="#72B44A"/>
<g clip-path="url(#ac)">
<path d="M-33.3,-25.5 L-27.5,-20 L-27.5,20 L-33.3,25.5 Z" fill="#fff" opacity="0.12" filter="url(#b05)"/>
<path d="M-33.3,25.5 L0,25.5 L4,20.3 L-27.5,20.3 Z" fill="#fff" opacity="0.10" filter="url(#b05)"/>
<path d="M0,-42 L33.3,0 L28,0 L0,-35.3 Z" fill="#fff" opacity="0.20" filter="url(#b05)"/>
<path d="M0,42 L33.3,0 L28,0 L0,35.3 Z" fill="#fff" opacity="0.20" filter="url(#b05)"/>
<path d="M-31,-23.3 L0.8,-23.3 L9,-14.5 L-22.5,-13.8 Z" fill="url(#ahn)" filter="url(#b08)"/>
</g>
<path d="M-33.3,-25.5 L0,-25.5 L0,-42 L33.3,0 L0,42 L0,25.5 L-33.3,25.5 Z" fill="none" stroke="#5C9C35" stroke-width="0.8" opacity="0.6"/>
</g>
<g transform="translate(868.1,220.3) rotate(330)">
<path d="M-33.3,-25.5 L0,-25.5 L0,-42 L33.3,0 L0,42 L0,25.5 L-33.3,25.5 Z" fill="#F5832F"/>
<g clip-path="url(#ac)">
<path d="M-33.3,-25.5 L-27.5,-20 L-27.5,20 L-33.3,25.5 Z" fill="#fff" opacity="0.04" filter="url(#b05)"/>
<path d="M-33.3,25.5 L0,25.5 L4,20.3 L-27.5,20.3 Z" fill="#fff" opacity="0.04" filter="url(#b05)"/>
<path d="M0,-42 L33.3,0 L28,0 L0,-35.3 Z" fill="#fff" opacity="0.07" filter="url(#b05)"/>
<path d="M0,42 L33.3,0 L28,0 L0,35.3 Z" fill="#fff" opacity="0.07" filter="url(#b05)"/>
<path d="M-31,-23.3 L0.8,-23.3 L9,-14.5 L-8,-14.2 L-27,-19.5 Z" fill="url(#aho)" filter="url(#b08)"/>
</g>
<path d="M-33.3,-25.5 L0,-25.5 L0,-42 L33.3,0 L0,42 L0,25.5 L-33.3,25.5 Z" fill="none" stroke="#D9691C" stroke-width="0.8" opacity="0.6"/>
</g>
</svg></body></html>
